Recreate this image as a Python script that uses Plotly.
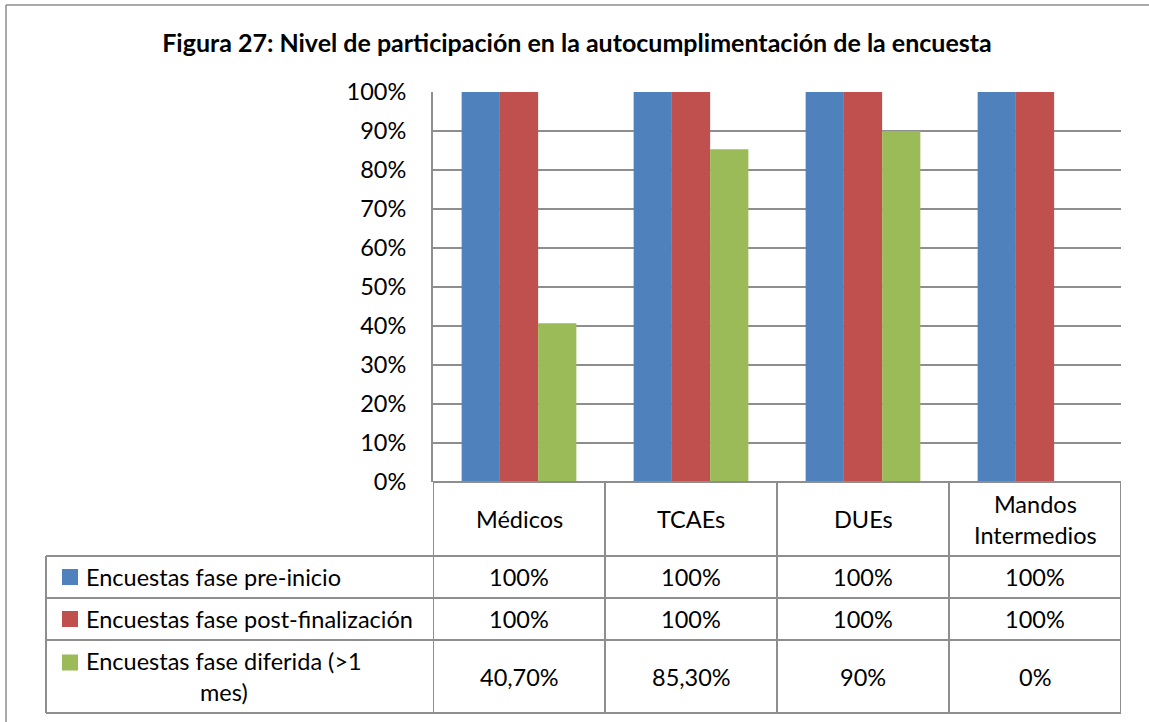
import plotly.graph_objects as go

# --- data -------------------------------------------------------------
categories = ["Médicos", "TCAEs", "DUEs", "Mandos<br>Intermedios"]
series_names = [
    "Encuestas fase pre-inicio",
    "Encuestas fase post-finalización",
    "Encuestas fase diferida (>1<br>mes)",
]
pre_inicio = [100, 100, 100, 100]
post_finalizacion = [100, 100, 100, 100]
diferida = [40.7, 85.3, 90, 0]
series_values = [pre_inicio, post_finalizacion, diferida]
colors = ["#4F81BD", "#C0504D", "#9BBB59"]
y_ticks = [0, 10, 20, 30, 40, 50, 60, 70, 80, 90, 100]

title_text = "Figura 27: Nivel de participación en la autocumplimentación de la encuesta"

# --- layout geometry (pixels) ------------------------------------------
W, H = 1149, 722
PL, PR, PT, PB = 433, 1121, 92, 482      # plot area
TABLE_LEFT = 46
ROW_EDGES = [482, 556, 598, 640, 713]    # header, row1, row2, row3
FONT = "Lato"
FS = 23.5
GRID = "#8E8E8E"


def fx(px):
    return (px - PL) / (PR - PL)


def fy(py):
    return (PB - py) / (PB - PT)


def fmt(v):
    if float(v).is_integer():
        return f"{int(v)}%"
    return f"{v:.2f}%".replace(".", ",")


fig = go.Figure()
for name, vals, col in zip(series_names, series_values, colors):
    fig.add_trace(go.Bar(
        x=list(range(len(categories))),
        y=vals,
        name=name,
        marker=dict(color=col, line=dict(width=0)),
        showlegend=False,
    ))

shapes = []
annotations = []

# outer chart frame (only left and top edges fall inside the picture)
frame = dict(color="#8C8C8C", width=1.5)
shapes.append(dict(type="line", xref="paper", yref="paper",
                   x0=fx(6), x1=fx(W), y0=fy(5), y1=fy(5), line=frame))
shapes.append(dict(type="line", xref="paper", yref="paper",
                   x0=fx(6), x1=fx(6), y0=fy(5), y1=fy(H), line=frame))

# table horizontal lines
for i, ry in enumerate(ROW_EDGES):
    x0 = fx(PL) if i == 0 else fx(TABLE_LEFT)
    shapes.append(dict(type="line", xref="paper", yref="paper",
                       x0=x0, x1=1, y0=fy(ry), y1=fy(ry),
                       line=dict(color=GRID, width=2)))
# table vertical lines: category boundaries
for k in range(len(categories) + 1):
    shapes.append(dict(type="line", xref="x", yref="paper",
                       x0=k - 0.5, x1=k - 0.5, y0=fy(PB), y1=fy(ROW_EDGES[-1]),
                       line=dict(color=GRID, width=2)))
# left border of legend column
shapes.append(dict(type="line", xref="paper", yref="paper",
                   x0=fx(TABLE_LEFT), x1=fx(TABLE_LEFT),
                   y0=fy(ROW_EDGES[1]), y1=fy(ROW_EDGES[-1]),
                   line=dict(color=GRID, width=2)))

text_font = dict(size=FS, color="#000000", family=FONT)

# header row: category names
hy = (ROW_EDGES[0] + ROW_EDGES[1]) / 2
for k, cat in enumerate(categories):
    annotations.append(dict(x=k, y=fy(hy), xref="x", yref="paper",
                            xanchor="center", yanchor="middle",
                            text=cat, showarrow=False, align="center",
                            font=text_font))

# data rows
for r, (name, vals, col) in enumerate(zip(series_names, series_values, colors)):
    top, bot = ROW_EDGES[r + 1], ROW_EDGES[r + 2]
    cy = (top + bot) / 2
    multi = "<br>" in name
    key_y = cy - 14 if multi else cy
    shapes.append(dict(type="rect", xref="paper", yref="paper",
                       x0=fx(62), x1=fx(78), y0=fy(key_y + 8), y1=fy(key_y - 8),
                       fillcolor=col, line=dict(width=0)))
    annotations.append(dict(x=fx(84), y=fy(cy), xref="paper", yref="paper",
                            xanchor="left", yanchor="middle", align="center",
                            text=name, showarrow=False, font=text_font))
    for k, v in enumerate(vals):
        annotations.append(dict(x=k, y=fy(cy), xref="x", yref="paper",
                                xanchor="center", yanchor="middle",
                                text=fmt(v), showarrow=False, font=text_font))

fig.update_layout(
    width=W, height=H,
    margin=dict(l=PL, r=W - PR, t=PT, b=H - PB),
    paper_bgcolor="white", plot_bgcolor="white",
    barmode="group", bargap=0.333, bargroupgap=0,
    title=dict(text=f"<b>{title_text}</b>", x=577 / W, xanchor="center",
               y=1 - 43 / H, yanchor="middle", yref="container",
               font=dict(size=25, color="#000000", family=FONT)),
    xaxis=dict(range=[-0.5, len(categories) - 0.5], showticklabels=False,
               showgrid=False, zeroline=False, showline=False, fixedrange=True),
    yaxis=dict(range=[0, 100], tickvals=y_ticks,
               ticktext=[f"{t}%" for t in y_ticks],
               showgrid=True, gridcolor=GRID, gridwidth=2,
               zeroline=False, showline=True, linecolor=GRID, linewidth=2,
               ticks="", ticklabelstandoff=20,
               tickfont=text_font),
    shapes=shapes,
    annotations=annotations,
)

fig.write_html(
    "out.html",
    config={"displayModeBar": False},
    post_script="document.body.style.margin='0';"
                "document.body.style.overflow='hidden';"
                "document.documentElement.style.overflow='hidden';",
)
